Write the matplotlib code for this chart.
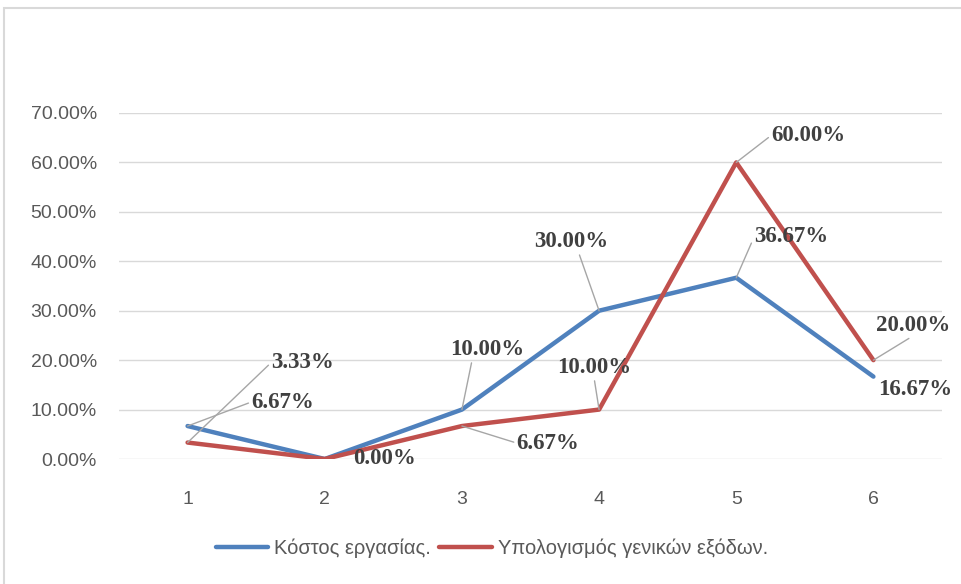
import numpy as np
import matplotlib
matplotlib.use('Agg')
import matplotlib.pyplot as plt
from matplotlib.patches import Rectangle

# DADOS
periodos = [1, 2, 3, 4, 5, 6]
kostos = [0.0667, 0.0, 0.10, 0.30, 0.3667, 0.1667]
genika = [0.0333, 0.0, 0.0667, 0.10, 0.60, 0.20]
nomes = ['Κόστος εργασίας.', 'Υπολογισμός γενικών εξόδων.']
y_ticks = [0.0, 0.1, 0.2, 0.3, 0.4, 0.5, 0.6, 0.7]

# posicao dos rotulos (offset em pixels, relpos da linha guia); None = sem rotulo
rot_kostos = [((95, 24), (0, 0.5)), None, ((25, 60), (0.3, 0)),
              ((-28, 69), (0.6, 0)), ((55, 41), (0, 0.5)), ((42, -13), None)]
rot_genika = [((115, 80), (0, 0.5)), ((60, 0), None), ((86, -17), (0, 0.5)),
              ((-5, 42), (0.5, 0)), ((72, 27), (0, 0.5)), ((40, 35), (0.5, 0))]

azul = '#4F81BD'
vermelho = '#C0504D'
cinza = '#595959'

fig = plt.figure(figsize=(9.61, 5.84), dpi=100)
fig.patches.append(Rectangle((4 / 961, -0.1), 1.2, 1 - 8 / 584 + 0.1,
                             transform=fig.transFigure, fill=False,
                             edgecolor='#d9d9d9', lw=1.5))

ax = fig.add_axes([119 / 961, 1 - 459 / 584, (942 - 119) / 961, (459 - 113) / 584])
ax.plot(periodos, kostos, color=azul, lw=3.2, label=nomes[0], solid_capstyle='round')
ax.plot(periodos, genika, color=vermelho, lw=3.2, label=nomes[1], solid_capstyle='round')

ax.set_xlim(0.5, 6.5)
ax.set_ylim(0, 0.7)
ax.set_yticks(y_ticks)
ax.set_yticklabels(['{:.2f}%'.format(v * 100) for v in y_ticks])
ax.set_xticks(periodos)
ax.set_xticklabels([str(p) for p in periodos])
ax.grid(axis='y', color='#d9d9d9', lw=1)
ax.set_axisbelow(True)
for s in ax.spines.values():
    s.set_visible(False)
ax.tick_params(length=0, labelcolor=cinza, labelsize=14)
ax.tick_params(axis='y', pad=16)
ax.tick_params(axis='x', pad=23)
for t in ax.get_xticklabels() + ax.get_yticklabels():
    t.set_fontfamily('Liberation Sans')


def rotular(valores, rotulos):
    for x, v, r in zip(periodos, valores, rotulos):
        if r is None:
            continue
        off, rel = r
        props = None
        if rel is not None:
            props = dict(arrowstyle='-', color='#a6a6a6', lw=1, relpos=rel,
                         shrinkA=0, shrinkB=0)
        ax.annotate('{:.2f}%'.format(v * 100), xy=(x, v), xytext=off,
                    textcoords='offset pixels', ha='center', va='center',
                    fontsize=16.5, fontweight='bold', family='Liberation Serif',
                    color='#404040', arrowprops=props, annotation_clip=False)


rotular(kostos, rot_kostos)
rotular(genika, rot_genika)

fig.legend(loc='center', bbox_to_anchor=(492 / 961, 1 - 548 / 584), ncol=2,
           frameon=False, handlelength=2.6, handletextpad=0.3, columnspacing=0.4,
           prop={'family': 'Liberation Sans', 'size': 14.5}, labelcolor=cinza)

fig.savefig('out.png', dpi=100)
